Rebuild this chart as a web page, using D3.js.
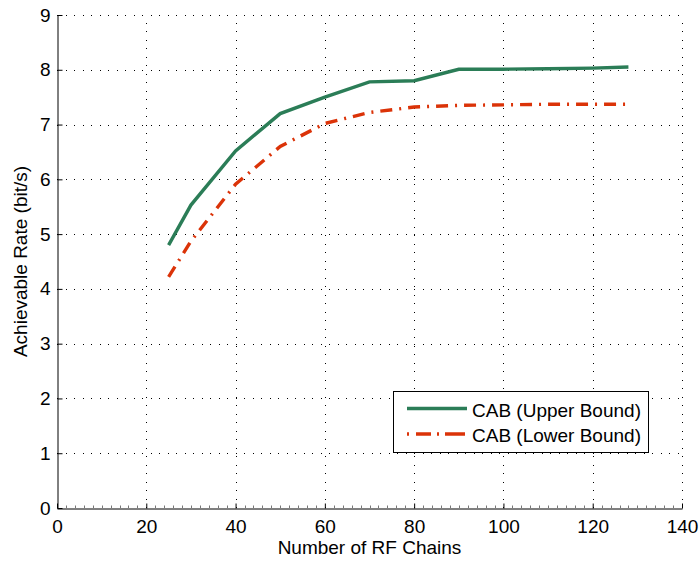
<!DOCTYPE html>
<html lang="en">
<head>
<meta charset="utf-8">
<title>Achievable rate vs RF chains</title>
<script src="https://d3js.org/d3.v7.min.js"></script>
<style>
  body, html { margin: 0; background: #fff; }
  svg { display: block; font-family: "Liberation Sans", Arial, sans-serif; }
</style>
</head>
<body>
<svg width="699" height="561"></svg>
<script>
// data
var rfChains = [25, 30, 40, 50, 60, 70, 80, 90, 100, 110, 120, 128];
var upperBound = [4.80, 5.53, 6.52, 7.20, 7.50, 7.78, 7.80, 8.01, 8.01, 8.02, 8.03, 8.05];
var lowerBound = [4.22, 4.87, 5.91, 6.60, 7.02, 7.22, 7.32, 7.35, 7.36, 7.37, 7.37, 7.37];
var xTicks = [0, 20, 40, 60, 80, 100, 120, 140];
var yTicks = [0, 1, 2, 3, 4, 5, 6, 7, 8, 9];
var seriesNames = ["CAB (Upper Bound)", "CAB (Lower Bound)"];

var margin = {left: 57, right: 17, top: 15, bottom: 53};
var W = 699, H = 561;
var fs = 19;

var svg = d3.select("svg");

var x = d3.scaleLinear().domain([0, 140]).range([margin.left, W - margin.right]);
var y = d3.scaleLinear().domain([0, 9]).range([H - margin.bottom, margin.top]);

// dotted grid
var grid = svg.append("g").attr("stroke", "#000").attr("stroke-width", 1)
  .attr("stroke-dasharray", "1,7.5").attr("shape-rendering", "crispEdges");
grid.selectAll(".gx").data(xTicks.slice(1)).enter().append("line")
  .attr("x1", d => Math.round(x(d)) + 0.5).attr("x2", d => Math.round(x(d)) + 0.5)
  .attr("y1", y(0)).attr("y2", y(9));
grid.selectAll(".gy").data(yTicks.slice(1)).enter().append("line")
  .attr("y1", d => Math.round(y(d)) + 0.5).attr("y2", d => Math.round(y(d)) + 0.5)
  .attr("x1", x(0)).attr("x2", x(140));

// x minor ticks
var xMinor = d3.range(2, 140, 2).filter(d => d % 20 !== 0);
svg.append("g").selectAll("line").data(xMinor).enter().append("line")
  .attr("x1", d => Math.round(x(d)) + 0.5).attr("x2", d => Math.round(x(d)) + 0.5)
  .attr("y1", y(0)).attr("y2", y(0) - 2.5)
  .attr("stroke", "#777").attr("stroke-width", 1);

// axes
var xAxis = d3.axisBottom(x).tickValues(xTicks).tickSizeInner(-5).tickSizeOuter(0);
var yAxis = d3.axisLeft(y).tickValues(yTicks).tickSizeInner(-5).tickSizeOuter(0);

var gx = svg.append("g").attr("transform", "translate(0," + (Math.round(y(0)) + 0.5) + ")").call(xAxis);
var gy = svg.append("g").attr("transform", "translate(" + (Math.round(x(0)) + 0.5) + ",0)").call(yAxis);
[gx, gy].forEach(function(g) {
  g.select(".domain").attr("stroke", "#000").attr("stroke-width", 1);
  g.selectAll(".tick line").attr("stroke", "#000");
  g.selectAll(".tick text").attr("font-size", fs).attr("fill", "#000")
    .attr("font-family", "'Liberation Sans', Arial, sans-serif");
});
gx.selectAll(".tick text").attr("dy", null).attr("y", 24);
gy.selectAll(".tick text").attr("x", -7);

// axis labels
svg.append("text").attr("x", (x(0) + x(140)) / 2).attr("y", 554)
  .attr("text-anchor", "middle").attr("font-size", fs).text("Number of RF Chains");
svg.append("text").attr("transform", "translate(27," + (y(4.5)) + ") rotate(-90)")
  .attr("text-anchor", "middle").attr("font-size", fs).text("Achievable Rate (bit/s)");

// lines
var line = d3.line().x(d => x(d[0])).y(d => y(d[1]));
var colors = ["#2b7d57", "#db3308"];
var dashes = [null, "12,7,2,7"];
var series = [upperBound, lowerBound];

series.forEach(function(vals, i) {
  svg.append("path")
    .datum(rfChains.map((c, j) => [c, vals[j]]))
    .attr("d", line)
    .attr("fill", "none")
    .attr("stroke", colors[i])
    .attr("stroke-width", 3.4)
    .attr("stroke-dasharray", dashes[i]);
});

// legend
var lg = svg.append("g").attr("transform", "translate(393,391)");
lg.append("rect").attr("x", 0.5).attr("y", 0.5).attr("width", 255).attr("height", 61)
  .attr("fill", "#fff").attr("stroke", "#000").attr("stroke-width", 1);
var legendDash = [null, "2,7,15,6,2,6,20"];
seriesNames.forEach(function(name, i) {
  var yy = 17.5 + i * 25.5;
  lg.append("line").attr("x1", 14).attr("x2", 74).attr("y1", yy).attr("y2", yy)
    .attr("stroke", colors[i]).attr("stroke-width", 3.4)
    .attr("stroke-dasharray", legendDash[i]);
  lg.append("text").attr("x", 79).attr("y", yy + 8).attr("font-size", fs).text(name);
});
</script>
</body>
</html>
